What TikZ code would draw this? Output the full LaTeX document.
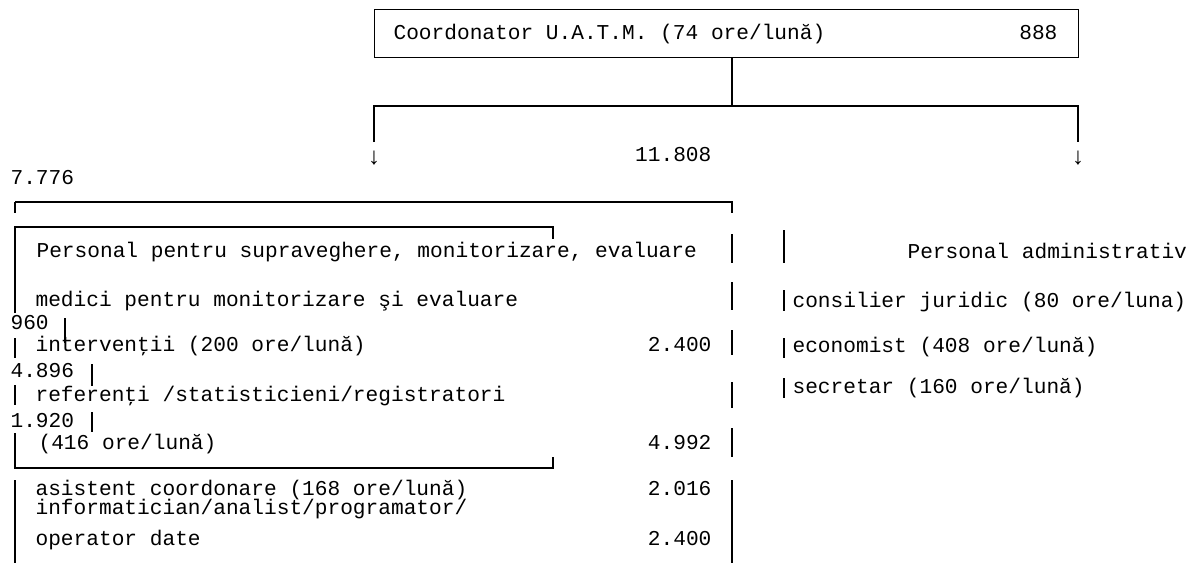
\documentclass[tikz,border=0pt]{standalone}
\usepackage{fontspec}
\setmonofont{Liberation Mono}
\begin{document}
\begin{tikzpicture}[x=0.5pt,y=-0.5pt,line width=0.6pt,
  txt/.style={inner sep=0pt,anchor=base west,font=\ttfamily\fontsize{10.58}{12}\selectfont},
  num/.style={txt,anchor=base east},
  arr/.style={inner sep=0pt,font=\ttfamily\fontsize{12}{13}\selectfont}]
\useasboundingbox (0,0) rectangle (1196,563);
\def\xl{15}
\def\xr{732}
\def\xa{784}
% top box and fork
\node[draw,anchor=north west,minimum width=352pt,minimum height=24pt,inner sep=0pt] (top) at (374,9) {};
\node[txt] (coord) at (393,39) {Coordonator U.A.T.M. (74 ore/lună)};
\node[num] (coordnr) at (1058,39) {888};
\coordinate (fork) at (732,106);
\coordinate (fl) at (374,106);
\coordinate (fr) at (1078,106);
\coordinate (fle) at (374,142);
\coordinate (fre) at (1078,142);
\node[arr] (arl) at (374,158) {↓};
\node[arr] (arr) at (1078,158) {↓};
\node[num] (tot) at (712,161) {11.808};
\node[txt] (sum) at (10,184) {7.776};
\draw (fork |- top.south) -- (fork);
\draw (fle) -- (fl) -- (fr) -- (fre);
% frames
\draw (\xl,202) -- (\xr,202) -- (\xr,213);
\draw (\xl,202) -- (\xl,213);
\draw (\xl,313) -- (\xl,227) -- (553,227) -- (553,239);
\draw (\xl,433) -- (\xl,468) -- (553,468) -- (553,457);
\draw (\xl,480) -- (\xl,563);
\draw (\xr,480) -- (\xr,563);
% left column
\node[txt] (sup) at (36,257) {Personal pentru supraveghere, monitorizare, evaluare};
\node[txt] (med) at (35,306) {medici pentru monitorizare şi evaluare};
\node[txt] (mednr) at (10,329) {960};
\node[txt] (int) at (35,351) {intervenţii (200 ore/lună)};
\node[num] (intnr) at (712,351) {2.400};
\node[txt] (intx) at (10,377) {4.896};
\node[txt] (ref) at (35,401) {referenţi /statisticieni/registratori};
\node[txt] (refx) at (10,427) {1.920};
\node[txt] (refb) at (38,449) {(416 ore/lună)};
\node[num] (refnr) at (712,449) {4.992};
\node[txt] (asi) at (35,495) {asistent coordonare (168 ore/lună)};
\node[num] (asinr) at (712,495) {2.016};
\node[txt] (inf) at (35,514) {informatician/analist/programator/};
\node[txt] (op) at (35,545) {operator date};
\node[num] (opnr) at (712,545) {2.400};
% bars
\draw (\xl,338) -- (\xl,358);
\draw (\xl,385) -- (\xl,405);
\draw (65,318) -- (65,343);
\draw (92,364) -- (92,386);
\draw (92,412) -- (92,432);
\foreach \a/\b in {234/263,282/310,330/355,382/408,428/457}
  \draw (\xr,\a) -- (\xr,\b);
% right column
\node[txt] (adm) at (907,258) {Personal administrativ};
\node[txt] (jur) at (792,307) {consilier juridic (80 ore/luna)};
\node[txt] (eco) at (792,352) {economist (408 ore/lună)};
\node[txt] (sec) at (792,393) {secretar (160 ore/lună)};
\foreach \a/\b in {230/263,290/311,338/358,378/398}
  \draw (\xa,\a) -- (\xa,\b);
\end{tikzpicture}
\end{document}
